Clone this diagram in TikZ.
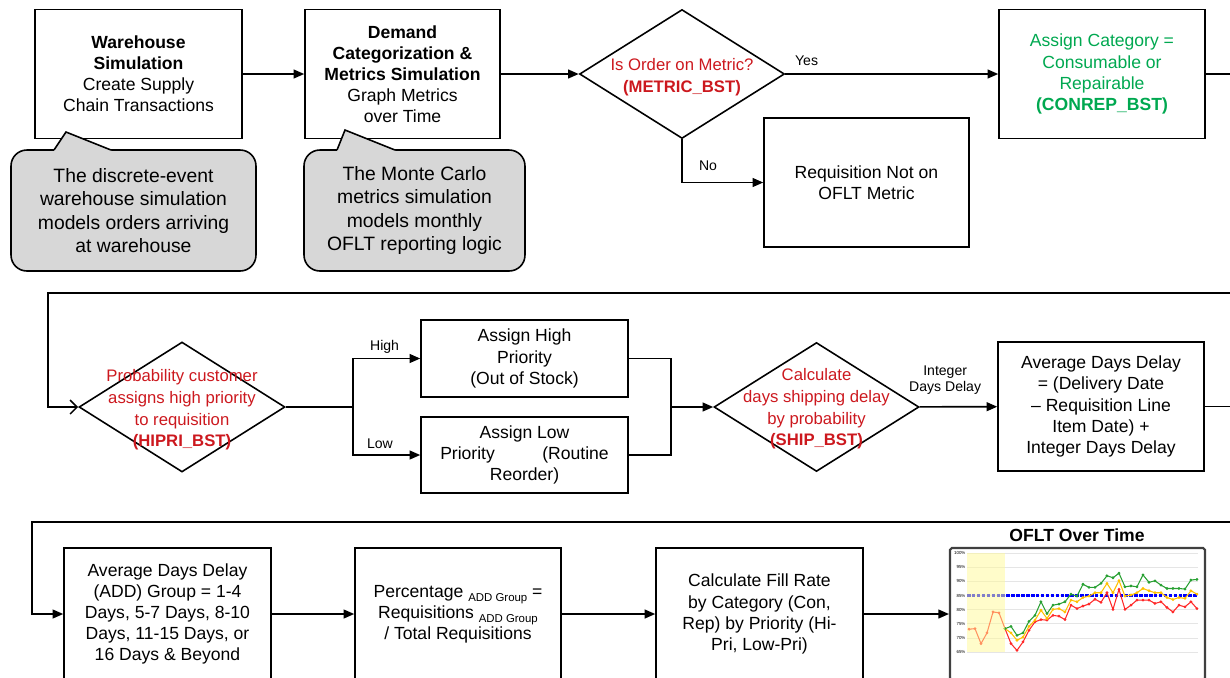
\documentclass[tikz,border=0pt]{standalone}
\usepackage{fontspec}
\setmainfont{Liberation Sans}
\usepackage{xcolor}
\usepackage{tikz}
\usetikzlibrary{shapes.geometric, positioning, arrows.meta, calc}

\definecolor{decred}{RGB}{204,24,30}
\definecolor{catgreen}{RGB}{0,168,80}
\definecolor{notegray}{RGB}{215,215,215}
\definecolor{hazy}{RGB}{255,250,150}
\definecolor{seriesgreen}{RGB}{40,160,50}
\definecolor{seriesyellow}{RGB}{255,192,0}
\definecolor{seriesred}{RGB}{255,40,40}

\newcommand{\addsub}{\raisebox{-0.5ex}{\fontsize{6.5}{7}\selectfont ADD Group}}

\begin{document}
\begin{tikzpicture}[
x=0.02cm, y=-0.02cm,
    process/.style={rectangle, draw, line width=0.9pt, minimum width=4.12cm, minimum height=2.58cm, align=center, font=\fontsize{10}{12}\selectfont, inner sep=1pt},
    decision/.style={diamond, draw, line width=0.9pt, minimum width=4.1cm, minimum height=2.58cm, inner sep=0pt},
    dectext/.style={align=center, text=decred, font=\fontsize{9.5}{12.3}\selectfont},
    note/.style={rectangle, draw, line width=0.9pt, fill=notegray, rounded corners=9pt, minimum height=2.42cm, align=center, font=\fontsize{11}{13.2}\selectfont},
    tag/.style={font=\fontsize{8}{9.5}\selectfont, align=center},
    line/.style={draw, line width=0.9pt},
    arrow/.style={line, -{Triangle[length=6pt, width=5pt]}}
]
\useasboundingbox (0,0) rectangle (1230,677);

    % Row 1
    \node[process, minimum width=4.14cm] (whsim) at (138.5,74) {\textbf{Warehouse}\\\textbf{Simulation}\\Create Supply\\Chain Transactions};
    \node[process, minimum width=3.9cm] (dmsim) at (402.5,74) {\textbf{Demand}\\\textbf{Categorization \&}\\\textbf{Metrics Simulation}\\Graph Metrics\\over Time};
    \node[decision] (metric) at (682,74) {};
    \node[dectext] (metrictxt) at (682,77) {Is Order on Metric?\\\textbf{(METRIC\_BST)}};
    \node[process, text=catgreen] (conrep) at (1102,74) {Assign Category =\\Consumable or\\Repairable\\\textbf{(CONREP\_BST)}};
    \node[process, minimum width=4.1cm] (notmet) at (866.5,182.5) {Requisition Not on\\OFLT Metric};

    % Notes
    \node[note, minimum width=4.9cm] (whnote) at (133.5,210.5) {The discrete-event\\warehouse simulation\\models orders arriving\\at warehouse};
    \node[note, minimum width=4.42cm] (dmnote) at (414.5,210.5) {The Monte Carlo\\metrics simulation\\models monthly\\OFLT reporting logic};
    \coordinate (whtip) at (66,132);
    \coordinate (dmtip) at (345,130);
    \fill[notegray] (54,150) -- (whtip) -- (111,150) -- (111,153) -- (54,153) -- cycle;
    \draw[line] (54,150) -- (whtip) -- (111,150);
    \fill[notegray] (337,150) -- (dmtip) -- (395,150) -- (395,153) -- (337,153) -- cycle;
    \draw[line] (337,150) -- (dmtip) -- (395,150);

    % Row 2
    \node[decision, minimum width=4.12cm, minimum height=2.6cm] (hipri) at (182,407) {};
    \node[dectext] (hipritxt) at (182,410) {Probability customer\\assigns high priority\\to requisition\\\textbf{(HIPRI\_BST)}};
    \node[process, minimum width=4.14cm, minimum height=1.54cm] (hiprio) at (524.5,358.5) {Assign High\\Priority\\(Out of Stock)};
    \node[process, minimum width=4.14cm, minimum height=1.52cm] (loprio) at (524.5,455) {Assign Low\\Priority\hspace{2.7em}(Routine\\Reorder)};
    \node[decision] (ship) at (816.5,407) {};
    \node[dectext] (shiptxt) at (816.5,409) {Calculate\\days shipping delay\\by probability\\\textbf{(SHIP\_BST)}};
    \node[process] (avgdel) at (1101,406.5) {Average Days Delay\\= (Delivery Date\\– Requisition Line\\Item Date) +\\Integer Days Delay};

    % Row 3
    \node[process, minimum width=4.14cm, minimum height=2.64cm] (addgrp) at (167.5,614) {Average Days Delay\\(ADD) Group = 1-4\\Days, 5-7 Days, 8-10\\Days, 11-15 Days, or\\16 Days \& Beyond};
    \node[process, minimum width=4.12cm, minimum height=2.64cm] (pctgrp) at (458,614) {Percentage \addsub{} =\\Requisitions \addsub\\ / Total Requisitions};
    \node[process, minimum width=4.14cm, minimum height=2.64cm] (fillrt) at (759.5,614) {Calculate Fill Rate\\by Category (Con,\\Rep) by Priority (Hi-\\Pri, Low-Pri)};
    \node[draw=black!75, line width=1.2pt, rounded corners=1pt, minimum width=5.1cm, minimum height=2.64cm] (chart) at (1077.5,614) {};
    \node[font=\bfseries\fontsize{10}{12}\selectfont] (charttitle) at (1077,535) {OFLT Over Time};

    % Chart
    \begin{scope}[shift={(969,835.9)}, x=0.12cm, y=0.05657cm]
    \foreach \g in {65,70,...,100} {
        \draw[gray!20, line width=0.4pt] (-0.33,\g) -- (38.2,\g);
        \node[font=\fontsize{2.5}{3}\selectfont, anchor=east, inner sep=0.5pt] (yl\g) at (-0.4,\g) {\g\%};
    }
    \draw[blue, line width=1.3pt, dash pattern=on 2pt off 0.8pt] (-0.33,85) -- (38.2,85);
    \draw[seriesred, line width=0.6pt, mark=*, mark size=0.45pt] plot coordinates {(0,73.1) (1,73.3) (2,68) (3,71.8) (4,79.2) (5,78.9) (6,73.3) (7,68) (8,65.6) (9,68.6) (10,72.7) (11,75.7) (12,76.5) (13,76.3) (14,78) (15,77.7) (16,76.5) (17,81.6) (18,80.4) (19,81.3) (20,82) (21,83.7) (22,82.6) (23,86) (24,80.1) (25,87.2) (26,80.1) (27,81.6) (28,83.4) (29,83.4) (30,83.4) (31,82.2) (32,82.8) (33,80.8) (34,79.2) (35,81.6) (36,81) (37,82.8) (38,80.4)};
    \draw[seriesyellow, line width=0.6pt, mark=*, mark size=0.45pt] plot coordinates {(6,73.3) (7,71.8) (8,69.2) (9,70.3) (10,74.1) (11,76.3) (12,79.8) (13,76.9) (14,80.1) (15,80.4) (16,79.2) (17,83.4) (18,82.8) (19,84.3) (20,84.8) (21,86) (22,86) (23,89.3) (24,86) (25,90.3) (26,84.8) (27,85.2) (28,86) (29,87.5) (30,86.7) (31,86) (32,86) (33,84.3) (34,83.6) (35,84.3) (36,84) (37,86.7) (38,85.5)};
    \draw[seriesgreen, line width=0.6pt, mark=*, mark size=0.45pt] plot coordinates {(6,73.3) (7,74.1) (8,70.9) (9,71.8) (10,75.9) (11,78) (12,82.8) (13,78.6) (14,81.6) (15,82) (16,82.8) (17,85.5) (18,84.8) (19,89) (20,87.9) (21,87.9) (22,89.3) (23,92) (24,91.3) (25,92.9) (26,88.1) (27,88.4) (28,88.1) (29,92.3) (30,89.7) (31,90.2) (32,88.7) (33,87.5) (34,87.5) (35,87.5) (36,87.3) (37,90.5) (38,90.7)};
    \fill[hazy, opacity=0.5] (-0.33,65) rectangle (6,100);
    \end{scope}

    % Edges - row 1
    \draw[arrow] (whsim) -- (dmsim);
    \draw[arrow] (dmsim) -- (metric);
    \draw[arrow] (metric) -- node[tag, above=1pt, pos=0.1] {Yes} (conrep);
    \draw[arrow] (metric.south) |- node[tag, above=3pt, pos=0.66] {No} (notmet);
    \coordinate (rt1) at (1232,74);
    \draw[line] (conrep) -- (rt1);

    % Edges - row 2
    \coordinate (rt2) at (1232,293);
    \coordinate (lp2) at (48,293);
    \draw[line, -{Straight Barb[length=4pt, width=8pt]}] (rt2) -- (lp2) |- (hipri);
    \coordinate (split) at (353,407);
    \draw[line] (hipri) -- (split);
    \draw[arrow] (split) |- node[tag, above=-1pt, pos=0.735] {High} (hiprio);
    \draw[arrow] (split) |- node[tag, above=0pt, pos=0.7] {Low} (loprio);
    \coordinate (join) at (671,407);
    \draw[line] (hiprio) -| (join);
    \draw[line] (loprio) -| (join);
    \draw[arrow] (join) -- (ship);
    \draw[arrow] (ship) -- node[tag, above=3pt, pos=0.33] {Integer\\Days Delay} (avgdel);
    \coordinate (rt3) at (1232,406.5);
    \draw[line] (avgdel) -- (rt3);

    % Edges - row 3
    \coordinate (rt4) at (1232,522);
    \coordinate (lp4) at (32,522);
    \draw[arrow] (rt4) -- (lp4) |- (addgrp);
    \draw[arrow] (addgrp) -- (pctgrp);
    \draw[arrow] (pctgrp) -- (fillrt);
    \draw[arrow] (fillrt) -- (chart);

\end{tikzpicture}
\end{document}
